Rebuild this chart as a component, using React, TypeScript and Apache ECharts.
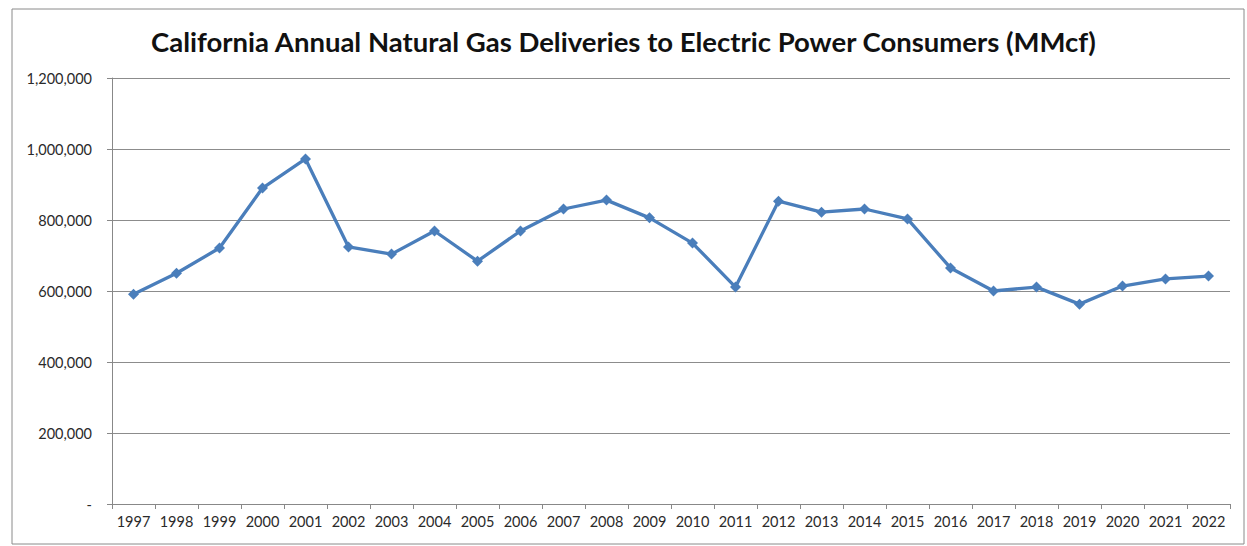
import React, { useEffect, useRef } from "react";
import * as echarts from "echarts";

const years = [
  "1997", "1998", "1999", "2000", "2001", "2002", "2003", "2004", "2005",
  "2006", "2007", "2008", "2009", "2010", "2011", "2012", "2013", "2014",
  "2015", "2016", "2017", "2018", "2019", "2020", "2021", "2022",
];

const deliveries = [
  591000, 650000, 721000, 890000, 972000, 724000, 704000, 769000, 684000,
  769000, 831000, 856000, 806000, 735000, 611000, 853000, 822000, 831000,
  803000, 665000, 600000, 611000, 563000, 614000, 634000, 642000,
];

const titleText = "California Annual Natural Gas Deliveries to Electric Power Consumers (MMcf)";

function fmt(v: number): string {
  if (v === 0) return "-";
  return v.toLocaleString("en-US");
}

export default function App() {
  const ref = useRef<HTMLDivElement>(null);
  useEffect(() => {
    if (!ref.current) return;
    const chart = echarts.init(ref.current, undefined, { renderer: "svg" });
    const font = "Lato, 'Open Sans', sans-serif";
    chart.setOption({
      animation: false,
      backgroundColor: "#ffffff",
      title: {
        text: titleText,
        left: "center",
        top: 22,
        textStyle: { fontFamily: font, fontSize: 27.5, fontWeight: "bold", color: "#111111" },
      },
      grid: { left: 112, right: 17, top: 78, bottom: 42, containLabel: false },
      xAxis: {
        type: "category",
        data: years,
        boundaryGap: true,
        axisLine: { show: true, lineStyle: { color: "#888888", width: 1 } },
        axisTick: { show: true, alignWithLabel: false, length: 5, lineStyle: { color: "#888888" } },
        axisLabel: { fontFamily: font, fontSize: 14.5, color: "#2a2a2a", margin: 10, interval: 0 },
        splitLine: { show: false },
      },
      yAxis: {
        type: "value",
        min: 0,
        max: 1200000,
        interval: 200000,
        axisLine: { show: true, lineStyle: { color: "#888888", width: 1 } },
        axisTick: { show: true, inside: false, length: 5, lineStyle: { color: "#888888" } },
        axisLabel: {
          fontFamily: font,
          fontSize: 14.5,
          color: "#2a2a2a",
          margin: 20,
          formatter: (v: number) => fmt(v),
        },
        splitLine: { show: true, lineStyle: { color: "#8c8c8c", width: 1 } },
      },
      series: [
        {
          type: "line",
          data: deliveries,
          symbol: "diamond",
          symbolSize: 11,
          lineStyle: { color: "#4a7ebb", width: 3.3 },
          itemStyle: { color: "#4a7ebb" },
        },
      ],
      graphic: [
        {
          type: "rect",
          shape: { x: 12, y: 9, width: 1232, height: 535 },
          style: { fill: "none", stroke: "#8a8a8a", lineWidth: 1 },
          silent: true,
          z: -1,
        },
      ],
    });
    return () => chart.dispose();
  }, []);
  return (
    <div
      ref={ref}
      style={{ position: "fixed", left: 0, top: 0, width: 1247, height: 546 }}
    />
  );
}
